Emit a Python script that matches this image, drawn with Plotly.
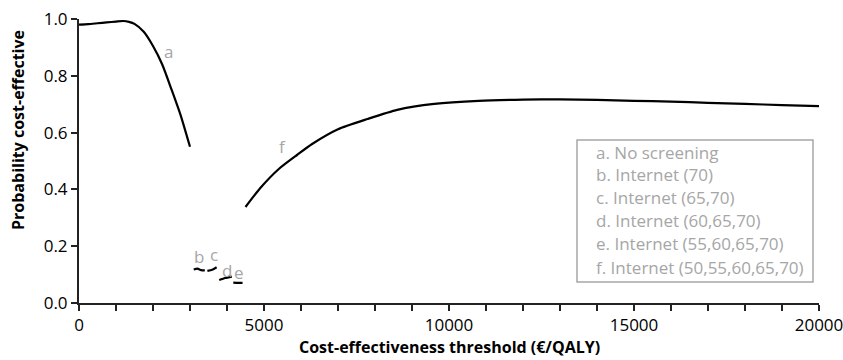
import plotly.graph_objects as go

# ---- data ----
a_x = [0, 250, 500, 750, 1000, 1200, 1350, 1500, 1750, 2000, 2250, 2500, 2750, 3000]
a_y = [0.980, 0.982, 0.985, 0.988, 0.991, 0.993, 0.990, 0.983, 0.955, 0.905, 0.840, 0.752, 0.660, 0.550]

b_x = [3100, 3200, 3300, 3400]
b_y = [0.118, 0.121, 0.116, 0.115]

c_x = [3470, 3600, 3720]
c_y = [0.113, 0.117, 0.126]

d_x = [3790, 3950, 4130]
d_y = [0.081, 0.088, 0.093]

e_x = [4170, 4300, 4420]
e_y = [0.072, 0.071, 0.071]

f_x = [4500, 4900, 5400, 5900, 6300, 7000, 7800, 8600, 9600, 10800, 12000, 13000,
       14000, 15000, 16000, 17000, 18000, 19000, 20000]
f_y = [0.338, 0.405, 0.472, 0.522, 0.560, 0.612, 0.648, 0.680, 0.701, 0.712, 0.716, 0.717,
       0.715, 0.712, 0.709, 0.705, 0.701, 0.697, 0.693]

series = [(a_x, a_y), (b_x, b_y), (c_x, c_y), (d_x, d_y), (e_x, e_y), (f_x, f_y)]

# curve labels: (text, x, y)
curve_labels = [("a", 2430, 0.879), ("b", 3240, 0.163), ("c", 3660, 0.163),
                ("d", 3990, 0.116), ("e", 4320, 0.102), ("f", 5495, 0.550)]

legend_labels = ["a. No screening", "b. Internet (70)", "c. Internet (65,70)",
                 "d. Internet (60,65,70)", "e. Internet (55,60,65,70)",
                 "f. Internet (50,55,60,65,70)"]

x_title = "Cost-effectiveness threshold (€/QALY)"
y_title = "Probability cost-effective"

FONT = "Open Sans"
GRAY = "#a6a6a6"

fig = go.Figure()
for sx, sy in series:
    fig.add_trace(go.Scatter(x=sx, y=sy, mode="lines",
                             line=dict(color="black", width=2.2, shape="spline", smoothing=0.6),
                             showlegend=False, hoverinfo="skip"))

for t, lx, ly in curve_labels:
    fig.add_annotation(x=lx, y=ly, text=t, showarrow=False,
                       yshift=2 if t in "ace" else 0,
                       font=dict(family=FONT, size=17, color=GRAY))

# legend box (paper coords)
L, R, T, B = 79, 819, 19, 303
W, H = R - L, B - T
def px_x(p):
    return (p - L) / W
def px_y(p):
    return (B - p) / H

fig.add_shape(type="rect", xref="paper", yref="paper",
              x0=px_x(577), x1=px_x(813), y0=px_y(282), y1=px_y(140),
              line=dict(color=GRAY, width=1.5), fillcolor="white")
for i, t in enumerate(legend_labels):
    fig.add_annotation(xref="paper", yref="paper", x=px_x(594), y=px_y(152 + 23 * i),
                       xanchor="left", yanchor="middle", text=t, showarrow=False,
                       font=dict(family=FONT, size=17, color=GRAY))

# axis titles
fig.add_annotation(xref="paper", yref="paper", x=0.5, y=px_y(347), yanchor="middle",
                   text="<b>" + x_title + "</b>", showarrow=False,
                   font=dict(family=FONT, size=16, color="black"))
fig.add_annotation(xref="paper", yref="paper", x=px_x(18), y=px_y(130), xanchor="center",
                   yanchor="middle",
                   text="<b>" + y_title + "</b>", showarrow=False, textangle=-90,
                   font=dict(family=FONT, size=16, color="black"))

fig.update_layout(
    width=843, height=360,
    margin=dict(l=L, r=843 - R, t=T, b=360 - B, autoexpand=False),
    paper_bgcolor="white", plot_bgcolor="white",
    font=dict(family=FONT, size=17, color="black"),
    xaxis=dict(range=[0, 20000], tickvals=[0, 5000, 10000, 15000, 20000],
               ticktext=["0", "5000", "10000", "15000", "20000"],
               ticklabeloverflow="allow",
               showgrid=False, zeroline=False, showline=True, linecolor="#222", linewidth=2,
               ticks="outside", ticklen=6, tickwidth=1.5, tickcolor="#222",
               minor=dict(dtick=1000, tick0=0, ticks="outside", ticklen=6, tickwidth=1.5,
                          tickcolor="#222", showgrid=False),
               tickfont=dict(family=FONT, size=17)),
    yaxis=dict(range=[0, 1.0], tickvals=[0, 0.2, 0.4, 0.6, 0.8, 1.0],
               ticktext=["0.0", "0.2", "0.4", "0.6", "0.8", "1.0"],
               ticklabeloverflow="allow",
               showgrid=False, zeroline=False, showline=True, linecolor="#222", linewidth=2,
               ticks="outside", ticklen=6, tickwidth=1.5, tickcolor="#222",
               tickfont=dict(family=FONT, size=17)),
)

fig.write_html("out.html", config={"displayModeBar": False},
               post_script="document.body.style.margin='0';document.body.style.padding='0';document.body.style.overflow='hidden';")
